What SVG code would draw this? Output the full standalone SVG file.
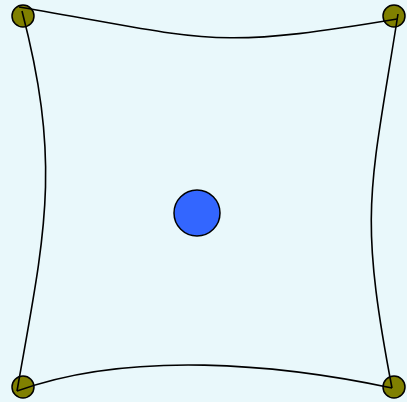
<svg xmlns="http://www.w3.org/2000/svg" width="407" height="402" viewBox="0 0 407 402">
<style>
.corner{fill:#808000;stroke:#000;stroke-width:1.5}
.center{fill:#3366ff;stroke:#000;stroke-width:1.5}
.edge{fill:none;stroke:#000;stroke-width:1.6}
</style>
<rect width="407" height="402" fill="#e9f8fb"/>
<g id="node-tl"><circle class="corner" cx="23" cy="16" r="11"/></g>
<g id="node-tr"><circle class="corner" cx="394" cy="16" r="11"/></g>
<g id="node-bl"><circle class="corner" cx="23" cy="387" r="11"/></g>
<g id="node-br"><circle class="corner" cx="394" cy="387" r="11"/></g>
<g id="node-center"><circle class="center" cx="197" cy="213" r="23"/></g>
<g id="connectors">
<path class="edge" d="M19,7 C209,39 207,51 397,19"/>
<path class="edge" d="M22,11 C62.6,167 44.3,235 17,391"/>
<path class="edge" d="M398,14 C370,192 358,210 392,388"/>
<path class="edge" d="M17,391 C130,350 279,364 392,388"/>
</g>
</svg>
